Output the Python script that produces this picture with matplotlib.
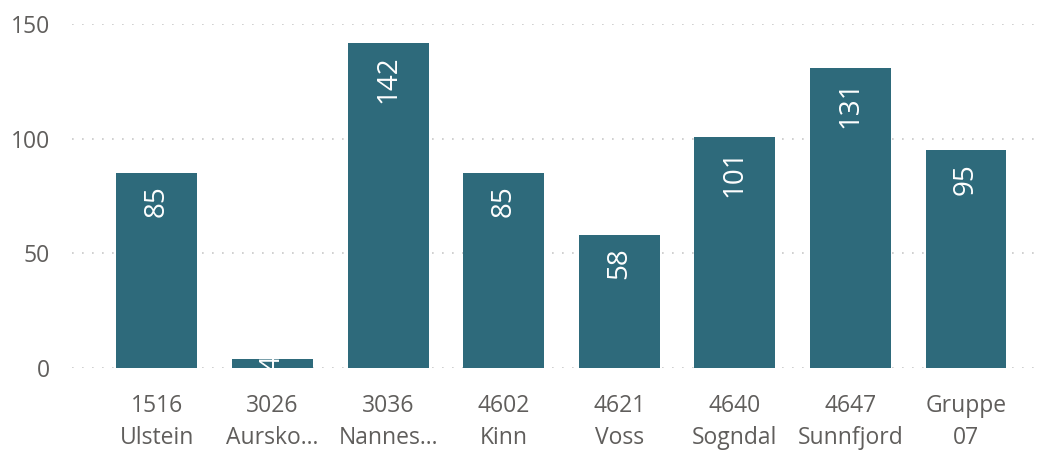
import matplotlib.pyplot as plt

plt.rcParams['font.family'] = ['Open Sans', 'DejaVu Sans']

codes = ['1516', '3026', '3036', '4602', '4621', '4640', '4647', 'Gruppe']
names = ['Ulstein', 'Aursko...', 'Nannes...', 'Kinn', 'Voss', 'Sogndal', 'Sunnfjord', '07']
values = [85, 4, 142, 85, 58, 101, 131, 95]

bar_color = '#2E6A7B'
text_color = '#605E5C'

fig = plt.figure(figsize=(10.58, 4.53), dpi=100)
ax = fig.add_axes([0.068, 0.1876, 0.915, 0.759])

x = list(range(len(values)))
bars = ax.bar(x, values, width=0.7, color=bar_color, zorder=2)

# value labels inside the top of each bar, clipped to the bar;
# bars too short for the label get it centred instead
for b, v in zip(bars, values):
    cx = b.get_x() + b.get_width() / 2
    if v >= 20:
        t = ax.annotate(str(v), (cx, v), xytext=(0, -9), textcoords='offset points',
                        rotation=90, ha='center', va='top',
                        color='white', fontsize=20, zorder=3)
    else:
        t = ax.text(cx, v / 2, str(v), rotation=90, ha='center', va='center',
                    color='white', fontsize=20, zorder=3)
    t.set_clip_path(b)

ax.set_xlim(-0.735, 7.64)
ax.set_ylim(0, 150)
ax.set_yticks([0, 50, 100, 150])
ax.yaxis.grid(True, linestyle=(0, (1, 5)), color='#C8C8C8', linewidth=1.2, zorder=0)

ax.set_xticks(x)
ax.set_xticklabels([c + '\n' + n for c, n in zip(codes, names)], linespacing=1.4)
ax.tick_params(axis='x', length=0, pad=19, labelsize=16.5, labelcolor=text_color)
ax.tick_params(axis='y', length=0, pad=16, labelsize=16.5, labelcolor=text_color)

for s in ax.spines.values():
    s.set_visible(False)

fig.savefig('out.png', dpi=100)
